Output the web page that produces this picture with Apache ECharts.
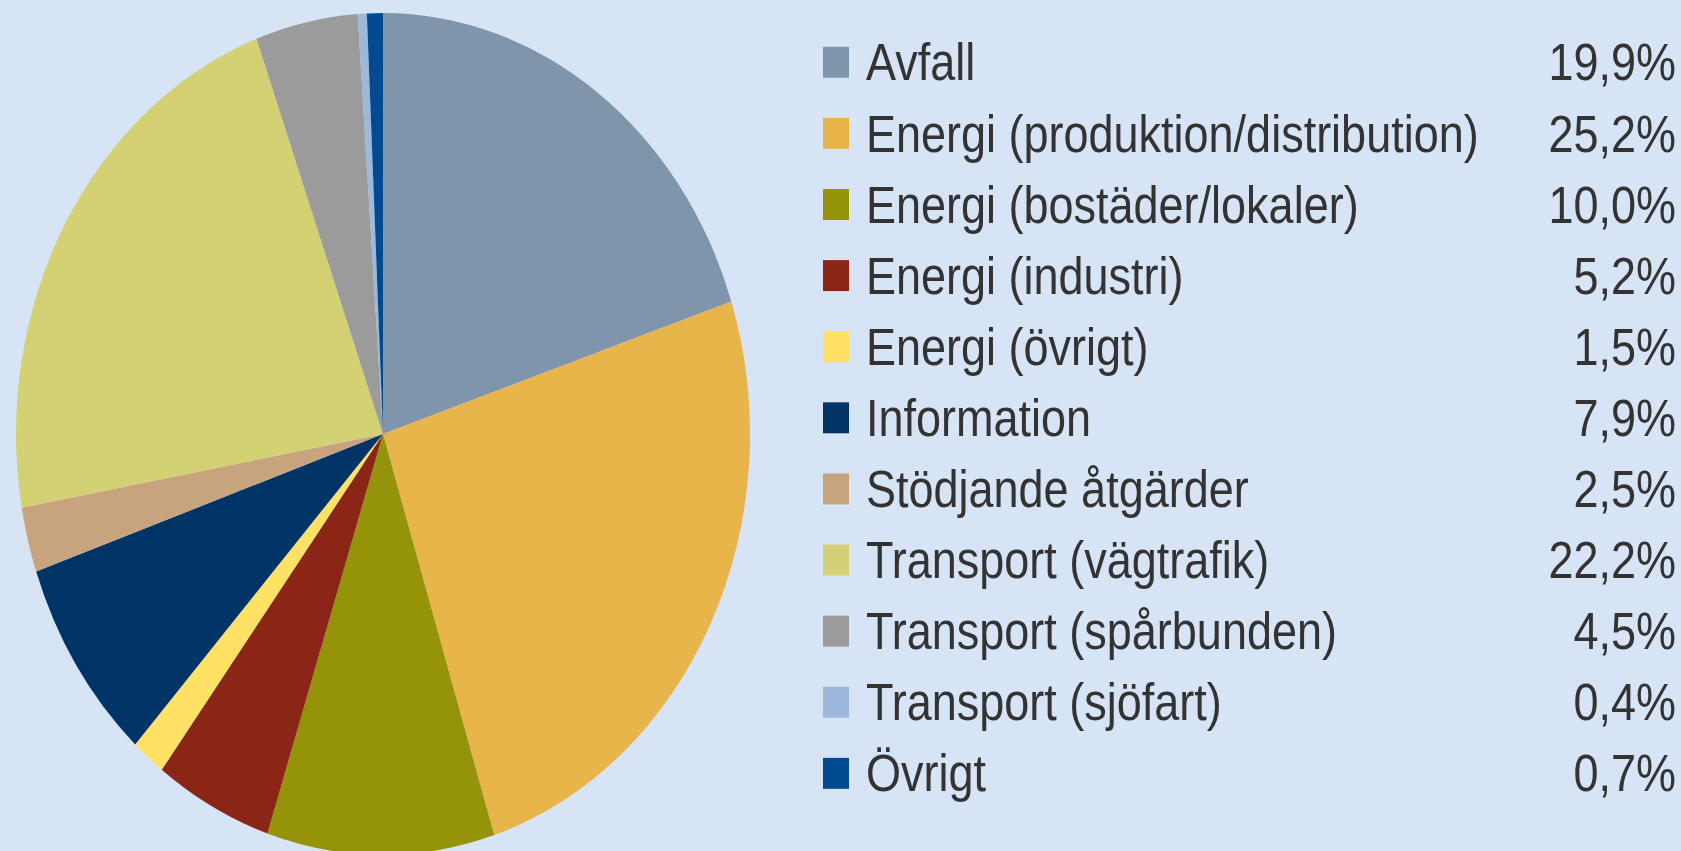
<!DOCTYPE html>
<html>
<head>
<meta charset="utf-8">
<script src="https://cdn.jsdelivr.net/npm/echarts@6/dist/echarts.min.js"></script>
<style>
  html, body { margin: 0; padding: 0; background: #D6E4F6; overflow: hidden; }
  #wrap { width: 1681px; height: 851px; overflow: hidden; position: relative; }
  #chart { width: 1681px; height: 742px; transform: scaleY(1.1469); transform-origin: 0 0; }
</style>
</head>
<body>
<div id="wrap"><div id="chart"></div></div>
<script>
const categories = [
  'Avfall',
  'Energi (produktion/distribution)',
  'Energi (bostäder/lokaler)',
  'Energi (industri)',
  'Energi (övrigt)',
  'Information',
  'Stödjande åtgärder',
  'Transport (vägtrafik)',
  'Transport (spårbunden)',
  'Transport (sjöfart)',
  'Övrigt'
];
const shares = [19.9, 25.2, 10.0, 5.2, 1.5, 7.9, 2.5, 22.2, 4.5, 0.4, 0.7];
const colors = ['#7F95AB', '#E8B54B', '#959307', '#8B2515', '#FFE264', '#003366',
                '#C8A47E', '#D4D174', '#9B9B9B', '#9DB8DA', '#004A91'];

const pctLabel = {};
categories.forEach((c, i) => { pctLabel[c] = shares[i].toFixed(1).replace('.', ',') + '%'; });

const FS = 45;
const chart = echarts.init(document.getElementById('chart'), null, { renderer: 'svg' });
chart.setOption({
  backgroundColor: '#D6E4F6',
  animation: false,
  color: colors,
  legend: {
    orient: 'vertical',
    left: 818,
    top: 26.8,
    itemWidth: 26,
    itemHeight: 27,
    itemGap: 62 - FS,
    icon: 'rect',
    selectedMode: false,
    data: categories,
    formatter: name => '{n|' + name + '}{p|' + pctLabel[name] + '}',
    textStyle: {
      fontFamily: 'Liberation Sans',
      fontSize: FS,
      color: '#333',
      rich: {
        n: { fontFamily: 'Liberation Sans', fontSize: FS, color: '#333', width: 600, padding: [0, 0, 0, 12] },
        p: { fontFamily: 'Liberation Sans', fontSize: FS, color: '#333', width: 210, align: 'right' }
      }
    }
  },
  series: [{
    type: 'pie',
    center: [383, 378.4],
    radius: [0, 367],
    startAngle: 90,
    clockwise: true,
    avoidLabelOverlap: false,
    label: { show: false },
    labelLine: { show: false },
    emphasis: { disabled: true },
    itemStyle: { borderWidth: 0 },
    data: categories.map((c, i) => ({ name: c, value: shares[i] }))
  }]
});
</script>
</body>
</html>
